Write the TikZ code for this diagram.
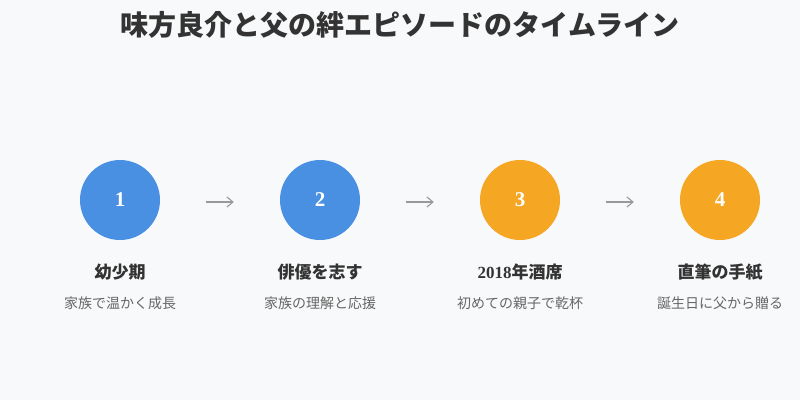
\documentclass[tikz,border=0pt]{standalone}
\usepackage{fontspec}
\setmainfont{Noto Sans CJK JP}
\newfontfamily\latserif{Liberation Serif}
\usetikzlibrary{arrows.meta}
\definecolor{bgc}{HTML}{F8F9FA}
\definecolor{bluec}{HTML}{4A90E2}
\definecolor{orangec}{HTML}{F5A623}
\definecolor{darkc}{HTML}{333333}
\definecolor{grayc}{HTML}{666666}
\definecolor{arrowc}{HTML}{999999}
\tikzset{
  x=1pt,y=-1pt,
  stepcirc/.style={circle,minimum size=80pt,inner sep=0pt,text=white,font=\latserif\fontsize{21}{21}\selectfont\bfseries},
  bluestep/.style={stepcirc,fill=bluec},
  orangestep/.style={stepcirc,fill=orangec},
  steptitle/.style={text=darkc,font=\fontsize{17}{20}\selectfont\bfseries,inner sep=0pt},
  stepsub/.style={text=grayc,font=\fontsize{14}{16}\selectfont,inner sep=0pt},
  conn/.style={arrowc,line width=1.1pt,-{Straight Barb[length=6pt,width=10pt,line width=1.1pt]},shorten <=46pt,shorten >=46pt}
}
\begin{document}
\begin{tikzpicture}
\fill[bgc] (0,0) rectangle (800,400);
\useasboundingbox (0,0) rectangle (800,400);
\node[text=darkc,font=\fontsize{28}{30}\selectfont\bfseries,inner sep=0pt] (title) at (400,25) {味方良介と父の絆エピソードのタイムライン};
\node[bluestep] (c1) at (120,200) {1};
\node[bluestep] (c2) at (320,200) {2};
\node[orangestep] (c3) at (520,200) {3};
\node[orangestep] (c4) at (720,200) {4};
\node[steptitle] (t1) at (120,272) {幼少期};
\node[steptitle] (t2) at (320,272) {俳優を志す};
\node[steptitle] (t3) at (520,272) {{\latserif\bfseries 2018}年酒席};
\node[steptitle] (t4) at (720,272) {直筆の手紙};
\node[stepsub] (s1) at (120,303) {家族で温かく成長};
\node[stepsub] (s2) at (320,303) {家族の理解と応援};
\node[stepsub] (s3) at (520,303) {初めての親子で乾杯};
\node[stepsub] (s4) at (720,303) {誕生日に父から贈る};
\draw[conn] (c1.east |- 0,202) -- (c2.west |- 0,202);
\draw[conn] (c2.east |- 0,202) -- (c3.west |- 0,202);
\draw[conn] (c3.east |- 0,202) -- (c4.west |- 0,202);
\end{tikzpicture}
\end{document}
